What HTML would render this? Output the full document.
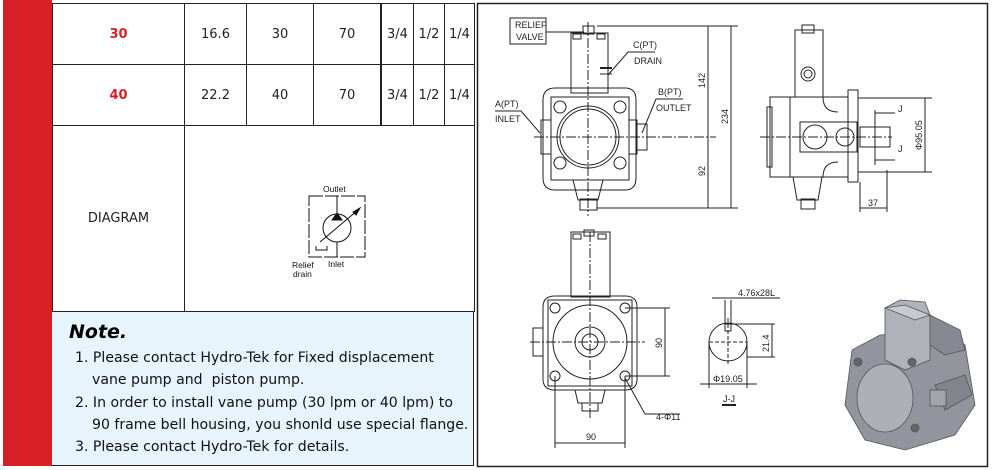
<!DOCTYPE html>
<html><head><meta charset="utf-8"><style>
body{margin:0;width:992px;height:470px;background:#fff;overflow:hidden;position:relative;font-family:"DejaVu Sans","Liberation Sans",sans-serif}
.red{position:absolute;left:3px;top:0;width:49px;height:466px;background:#d71f26}
table{position:absolute;left:52px;top:3px;border-collapse:collapse;font-size:13px;color:#222}
td{border:1px solid #222;text-align:center;padding:0}
.note{position:absolute;left:52px;top:311px;width:422px;height:155px;background:#e7f4fc;border-top:1px solid #222;border-right:1px solid #222;border-bottom:1px solid #222;box-sizing:border-box}
.note p{position:absolute;margin:0;font-size:14.1px;color:#111;white-space:nowrap}
svg{position:absolute;left:0;top:0}
</style></head><body>
<div class="red"></div>
<table>
<tr style="height:61px"><td style="width:131px;color:#d71f26;font-weight:bold">30</td><td style="width:61px">16.6</td><td style="width:66px">30</td><td style="width:66px">70</td><td style="width:31px;border-left:2px solid #222">3/4</td><td style="width:30px">1/2</td><td style="width:29px">1/4</td></tr>
<tr style="height:61px"><td style="color:#d71f26;font-weight:bold">40</td><td>22.2</td><td>40</td><td>70</td><td style="border-left:2px solid #222">3/4</td><td>1/2</td><td>1/4</td></tr>
<tr style="height:186px"><td>DIAGRAM</td><td colspan="6"></td></tr>
</table>
<div class="note"><span style="position:absolute;left:17px;top:9px;font-weight:bold;font-style:italic;font-size:19px">Note.</span>
<p style="left:23px;top:38px">1. Please contact Hydro-Tek for Fixed displacement</p>
<p style="left:40px;top:60px">vane pump and&nbsp; piston pump.</p>
<p style="left:23px;top:83px">2. In order to install vane pump (30 lpm or 40 lpm) to</p>
<p style="left:40px;top:105px">90 frame bell housing, you shonld use special flange.</p>
<p style="left:23px;top:127px">3. Please contact Hydro-Tek for details.</p>
</div>
<svg width="992" height="470" viewBox="0 0 992 470" font-family="Liberation Sans Narrow, Liberation Sans, sans-serif">
<g stroke="#111" fill="none" stroke-width="1">
<rect x="309" y="196" width="56" height="61" stroke-dasharray="14 2"/>
<line x1="337" y1="196" x2="337" y2="257"/>
<circle cx="337" cy="228" r="14" fill="#fff"/>
<path d="M332 220 L337 213 L342 220 Z" fill="#111"/>
<line x1="320" y1="242" x2="358" y2="210"/>
<path d="M353 212 L360 208 L356 215 Z" fill="#111"/>
<path d="M316 246 v4 h11 v-4"/>
</g>
<g font-size="8.5" fill="#111" font-family="Liberation Sans, sans-serif">
<text x="323" y="192">Outlet</text><text x="292" y="268">Relief</text><text x="293" y="277">drain</text><text x="328" y="267">Inlet</text></g>
<rect x="477.5" y="3.5" width="510" height="463" fill="none" stroke="#222" stroke-width="1.5"/>
<g stroke="#222" fill="none" stroke-width="1">
<rect x="510" y="18" width="36" height="26"/>
<polyline points="546,32 584,32"/>
<rect x="583" y="26" width="11" height="8"/>
<rect x="571" y="33" width="37" height="60"/>
<rect x="573" y="34" width="8" height="5"/><rect x="597" y="34" width="8" height="5"/>
<path d="M555 88 H625 Q636 88 636 100 V178 Q636 190 625 190 H555 Q543 190 543 178 V100 Q543 88 555 88Z"/>
<rect x="551" y="97" width="78" height="83"/>
<circle cx="588" cy="137" r="31"/><circle cx="588" cy="137" r="28"/>
<circle cx="560" cy="107" r="6"/><circle cx="620" cy="107" r="6"/><circle cx="560" cy="163" r="6"/><circle cx="620" cy="163" r="6"/>
<rect x="541" y="120" width="10" height="34"/><rect x="629" y="120" width="8" height="34"/><rect x="637" y="124" width="10" height="26"/>
<path d="M573 180 L578 200 H598 L603 180"/>
<rect x="580" y="199" width="17" height="11"/>
<line x1="600" y1="68" x2="612" y2="68" stroke-width="2"/><line x1="600" y1="74" x2="612" y2="74"/>
<polyline points="608,75 628,52 655,52"/>
<polyline points="495,111 521,111 540,133"/>
<polyline points="683,99 656,99 642,133"/>
<line x1="588" y1="22" x2="588" y2="216" stroke-dasharray="10 2 2 2"/>
<line x1="534" y1="137" x2="716" y2="137" stroke-dasharray="10 2 2 2"/>
<line x1="597" y1="26" x2="738" y2="26"/><line x1="597" y1="208" x2="738" y2="208"/>
<line x1="708" y1="26" x2="708" y2="208"/><line x1="731" y1="26" x2="731" y2="208"/>
<rect x="795" y="30" width="28" height="67"/><rect x="802" y="25" width="12" height="8"/>
<circle cx="808" cy="74" r="7"/><circle cx="808" cy="74" r="4"/>
<rect x="770" y="97" width="20" height="80"/><rect x="767" y="107" width="5" height="60"/>
<rect x="790" y="97" width="58" height="80"/>
<path d="M823 97 Q823 112 838 112 M823 177 Q823 162 838 162"/>
<rect x="800" y="122" width="57" height="30"/>
<circle cx="815" cy="137" r="12"/><circle cx="845" cy="137" r="9"/>
<rect x="848" y="90" width="10" height="92"/>
<rect x="860" y="127" width="30" height="20"/>
<path d="M793 177 L797 200 H818 L822 177"/><rect x="801" y="199" width="14" height="10"/>
<line x1="760" y1="137" x2="892" y2="137" stroke-dasharray="10 2 2 2"/>
<line x1="858" y1="98" x2="932" y2="98"/><line x1="858" y1="172" x2="932" y2="172"/>
<line x1="925" y1="98" x2="925" y2="172"/>
<polyline points="875,113 895,113"/><polyline points="875,160 895,160"/>
<line x1="875" y1="110" x2="875" y2="165"/>
<line x1="887" y1="170" x2="887" y2="212"/><line x1="860" y1="182" x2="860" y2="212"/>
<line x1="860" y1="208" x2="887" y2="208"/>
<rect x="571" y="232" width="39" height="65"/><rect x="584" y="230" width="10" height="6"/>
<rect x="573" y="234" width="8" height="5"/><rect x="598" y="234" width="8" height="5"/>
<path d="M555 296 H625 Q637 296 637 307 V379 Q637 390 625 390 H555 Q543 390 543 379 V307 Q543 296 555 296Z"/>
<rect x="548" y="300" width="84" height="86"/>
<circle cx="590" cy="342" r="37"/><circle cx="590" cy="342" r="15"/><circle cx="590" cy="342" r="8"/>
<circle cx="555" cy="308" r="5"/><circle cx="625" cy="308" r="5"/><circle cx="555" cy="376" r="5"/><circle cx="625" cy="376" r="5"/>
<rect x="533" y="328" width="10" height="28"/>
<path d="M575 390 L578 403 H602 L605 390"/><rect x="582" y="403" width="16" height="8"/>
<line x1="590" y1="232" x2="590" y2="420" stroke-dasharray="10 2 2 2"/>
<line x1="530" y1="342" x2="645" y2="342" stroke-dasharray="10 2 2 2"/>
<line x1="625" y1="308" x2="670" y2="308"/><line x1="625" y1="376" x2="670" y2="376"/>
<line x1="665" y1="308" x2="665" y2="376"/>
<line x1="555" y1="376" x2="555" y2="448"/><line x1="625" y1="376" x2="625" y2="448"/>
<line x1="555" y1="443" x2="625" y2="443"/>
<polyline points="625,378 645,414 680,414"/>
<circle cx="728" cy="342" r="19"/><rect x="725" y="324" width="6" height="7"/>
<line x1="728" y1="318" x2="728" y2="366" stroke-dasharray="4 2"/><line x1="709" y1="342" x2="747" y2="342" stroke-dasharray="4 2"/>
<line x1="725" y1="300" x2="725" y2="324"/><line x1="731" y1="300" x2="731" y2="324"/>
<line x1="712" y1="298" x2="780" y2="298"/>
<line x1="731" y1="324" x2="775" y2="324"/><line x1="747" y1="357" x2="775" y2="357"/>
<line x1="772" y1="324" x2="772" y2="357"/>
<line x1="709" y1="342" x2="709" y2="388"/><line x1="747" y1="342" x2="747" y2="388"/>
<line x1="700" y1="384" x2="757" y2="384"/>
<line x1="722" y1="405" x2="736" y2="405" stroke-width="2"/>
</g>
<g font-size="9" fill="#222">
<text x="515" y="28">RELIEF</text><text x="516" y="40">VALVE</text>
<text x="633" y="48">C(PT)</text><text x="634" y="64">DRAIN</text>
<text x="495" y="107">A(PT)</text><text x="495" y="122">INLET</text>
<text x="658" y="95">B(PT)</text><text x="656" y="111">OUTLET</text>
<text transform="translate(705,88) rotate(-90)">142</text>
<text transform="translate(705,176) rotate(-90)">92</text>
<text transform="translate(728,124) rotate(-90)">234</text>
<text transform="translate(922,150) rotate(-90)">Φ95.05</text>
<text x="898" y="112">J</text><text x="898" y="152">J</text>
<text x="868" y="206">37</text>
<text transform="translate(662,348) rotate(-90)">90</text>
<text x="586" y="440">90</text>
<text x="656" y="420">4-Φ11</text>
<text x="738" y="296">4.76x28L</text>
<text transform="translate(769,352) rotate(-90)">21.4</text>
<text x="713" y="382">Φ19.05</text>
<text x="723" y="402">J-J</text>
</g>
<g stroke="#555" stroke-width="0.8">
<polygon points="852,350 880,335 945,330 965,345 975,405 955,435 905,450 865,440 845,405" fill="#92949e"/>
<polygon points="885,308 900,300 925,302 930,315 930,360 905,370 885,360" fill="#b0b2ba"/>
<polygon points="885,308 905,305 930,315 915,320" fill="#c8cad0"/>
<polygon points="930,315 960,330 965,350 945,355 930,345" fill="#868892"/>
<ellipse cx="885" cy="398" rx="28" ry="34" fill="#aeb0b8"/>
<polygon points="935,385 965,375 972,395 945,410" fill="#83858e"/>
<rect x="930" y="390" width="16" height="16" fill="#a2a4ac"/>
<circle cx="912" cy="362" r="4" fill="#666"/><circle cx="858" cy="362" r="4" fill="#666"/><circle cx="915" cy="428" r="4" fill="#666"/>
</g>
</svg>
</body></html>
